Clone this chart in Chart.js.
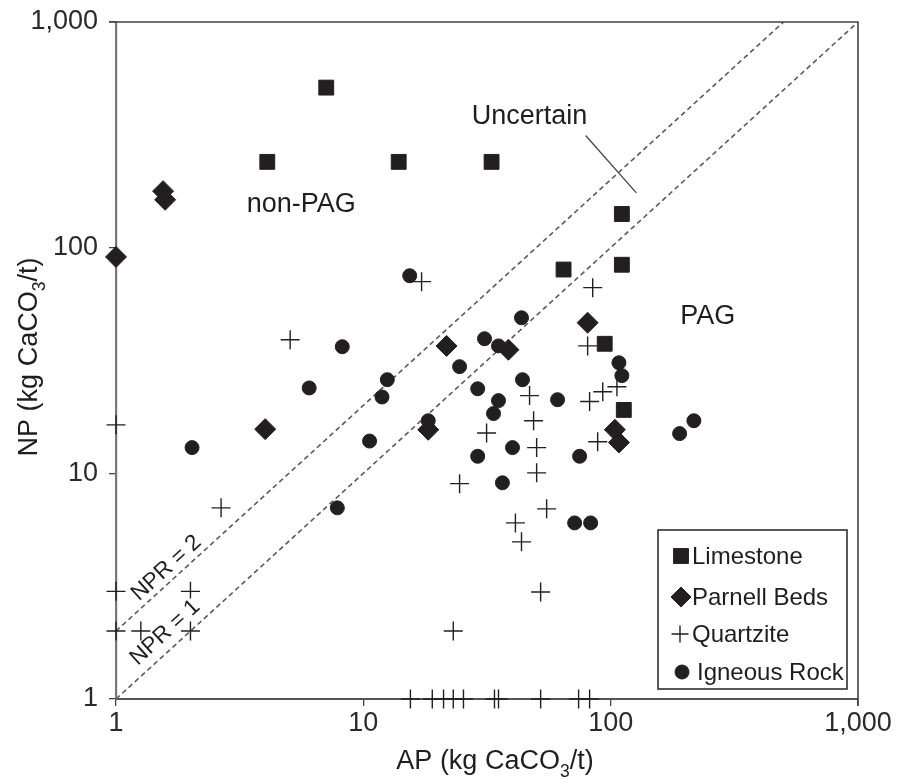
<!DOCTYPE html>
<html>
<head>
<meta charset="utf-8">
<script src="https://cdn.jsdelivr.net/npm/chart.js@4.4.1/dist/chart.umd.min.js"></script>
<style>
html,body{margin:0;padding:0;background:#fff;}
canvas{display:block;}
</style>
</head>
<body>
<canvas id="c" width="898" height="779" style="width:898px;height:779px"></canvas>
<script>
// ---- Data (AP, NP in kg CaCO3/t) ----
const limestoneAP = [7.08, 4.09, 13.9, 33, 111, 64.5, 111, 94.6, 113];
const limestoneNP = [512, 240, 240, 240, 141, 80, 84, 37.5, 19.1];

const parnellAP = [1.55, 1.58, 1, 21.7, 4.01, 18.3, 38.6, 80.7, 104, 108];
const parnellNP = [178, 163, 91, 36.7, 15.7, 15.6, 35.3, 46.5, 15.6, 13.7];

const quartziteAP = [1, 5.06, 17.2, 31.5, 24.5, 2.66, 1, 2.0, 1, 1.26, 2.0, 23.1,
  84.6, 80.7, 47, 92.9, 106, 82.2, 48.8, 50.2, 88.6, 50.2, 55.1, 41.2, 43.6, 52.1,
  15.5, 19.0, 21.1, 23.1, 25.4, 33.9, 35.2, 52.1, 74.2, 82.2];
const quartziteNP = [16.4, 39.1, 70.7, 15.1, 9.0, 7.03, 3.0, 3.0, 2.0, 2.0, 2.0, 2.0,
  66.5, 36.7, 22.1, 23, 24.2, 20.8, 17.1, 13.0, 13.8, 10.05, 6.96, 6.03, 4.97, 2.98,
  1, 1, 1, 1, 1, 1, 1, 1, 1, 1];

const igneousAP = [15.4, 8.22, 6.04, 2.03, 12.5, 11.9, 10.6, 18.3, 24.5, 30.9, 35.2, 29,
  35.2, 43.6, 44, 33.6, 61, 108, 111, 217, 190, 40.1, 29, 74.9, 36.5, 71.5, 83, 7.85];
const igneousNP = [75.1, 36.4, 23.9, 13.0, 26.0, 21.8, 13.9, 17.1, 29.7, 39.5, 36.7, 23.7,
  21.0, 48.9, 26.0, 18.4, 21.2, 30.9, 27.1, 17.1, 15.0, 13.0, 11.9, 11.9, 9.08, 6.03, 6.03, 7.03];

// reference lines (NPR = NP/AP)
const npr1AP = [1, 1000];
const npr1NP = [1, 1000];
const npr2AP = [1, 500];
const npr2NP = [2, 1000];
// leader line for "Uncertain"
const leaderAP = [79.2, 127];
const leaderNP = [314, 175];

const tickValues = [1, 10, 100, 1000];
const tickLabels = ['1', '10', '100', '1,000'];

const seriesNames = ['Limestone', 'Parnell Beds', 'Quartzite', 'Igneous Rock'];

// annotation anchors (data coords)
const notes = [
  {text: 'non-PAG', ap: 5.61, np: 155},
  {text: 'Uncertain', ap: 47, np: 381},
  {text: 'PAG', ap: 247, np: 49.4}
];
const nprLabels = [
  {text: 'NPR = 2', ap: 1.6, np: 3.8},
  {text: 'NPR = 1', ap: 1.58, np: 1.97}
];

const zip = (xs, ys) => xs.map((x, i) => ({x: x, y: ys[i]}));
const INK = '#231f20';
const FONT = "'Liberation Sans', Arial, Helvetica, sans-serif";

const markerStyles = [
  {pointStyle: 'rect', radius: 10.5, borderWidth: 1},
  {pointStyle: 'rectRot', radius: 10.5, borderWidth: 1},
  {pointStyle: 'cross', radius: 9.5, borderWidth: 1.4},
  {pointStyle: 'circle', radius: 7, borderWidth: 1}
];

function markerDataset(label, data, st) {
  return {
    label: label, data: data, type: 'scatter', showLine: false,
    pointStyle: st.pointStyle, pointRadius: st.radius, pointHoverRadius: st.radius,
    pointBorderWidth: st.borderWidth, backgroundColor: INK, borderColor: INK,
    clip: false, order: 0
  };
}
function lineDataset(data, dash, width, color) {
  return {
    label: '', data: data, type: 'line', showLine: true, pointRadius: 0,
    borderDash: dash, borderWidth: width, borderColor: color, fill: false,
    tension: 0, clip: false, order: 10
  };
}

const datasets = [
  lineDataset(zip(npr1AP, npr1NP), [5, 3.5], 1.6, '#5a5a5a'),
  lineDataset(zip(npr2AP, npr2NP), [5, 3.5], 1.6, '#5a5a5a'),
  lineDataset(zip(leaderAP, leaderNP), [], 1.3, '#444'),
  markerDataset(seriesNames[0], zip(limestoneAP, limestoneNP), markerStyles[0]),
  markerDataset(seriesNames[1], zip(parnellAP, parnellNP), markerStyles[1]),
  markerDataset(seriesNames[2], zip(quartziteAP, quartziteNP), markerStyles[2]),
  markerDataset(seriesNames[3], zip(igneousAP, igneousNP), markerStyles[3])
];

function drawSubText(ctx, parts, size) {
  let w = 0;
  const widths = parts.map(p => {
    ctx.font = (p[1] ? size * 0.65 : size) + 'px ' + FONT;
    const m = ctx.measureText(p[0]).width;
    w += m; return m;
  });
  let x = -w / 2;
  parts.forEach((p, i) => {
    ctx.font = (p[1] ? size * 0.65 : size) + 'px ' + FONT;
    ctx.fillText(p[0], x, p[1] ? size * 0.28 : 0);
    x += widths[i];
  });
}

const overlay = {
  id: 'overlay',
  afterDraw(chart) {
    const ctx = chart.ctx;
    const xs = chart.scales.x, ys = chart.scales.y;
    const a = chart.chartArea;
    ctx.save();
    // top & right frame
    ctx.strokeStyle = '#444';
    ctx.lineWidth = 1.6;
    ctx.beginPath();
    ctx.moveTo(a.left - 7, a.top);
    ctx.lineTo(a.right, a.top);
    ctx.lineTo(a.right, a.bottom + 7);
    ctx.stroke();

    ctx.fillStyle = '#1e1e1e';
    ctx.textAlign = 'center';
    ctx.textBaseline = 'middle';
    ctx.font = '27px ' + FONT;
    notes.forEach(n => {
      ctx.fillText(n.text, xs.getPixelForValue(n.ap), ys.getPixelForValue(n.np));
    });

    // NPR labels, rotated along the lines
    const ang = Math.atan2(ys.getPixelForValue(10) - ys.getPixelForValue(1),
                           xs.getPixelForValue(10) - xs.getPixelForValue(1));
    ctx.font = '22.5px ' + FONT;
    nprLabels.forEach(n => {
      ctx.save();
      ctx.translate(xs.getPixelForValue(n.ap), ys.getPixelForValue(n.np));
      ctx.rotate(ang);
      ctx.fillStyle = '#fff';
      const w = ctx.measureText(n.text).width;
      ctx.fillRect(-w / 2 - 1, -8, w + 2, 16);
      ctx.fillStyle = '#1e1e1e';
      ctx.fillText(n.text, 0, 0);
      ctx.restore();
    });

    // axis titles
    ctx.fillStyle = '#1e1e1e';
    ctx.textAlign = 'left';
    ctx.textBaseline = 'alphabetic';
    ctx.save();
    ctx.translate(495, 769);
    drawSubText(ctx, [['AP (kg CaCO', false], ['3', true], ['/t)', false]], 27);
    ctx.restore();
    ctx.save();
    ctx.translate(37, 357);
    ctx.rotate(-Math.PI / 2);
    drawSubText(ctx, [['NP (kg CaCO', false], ['3', true], ['/t)', false]], 27);
    ctx.restore();

    // legend box
    const lx = 658, ly = 530, lw = 189, lh = 159;
    ctx.fillStyle = '#fff';
    ctx.fillRect(lx, ly, lw, lh);
    ctx.strokeStyle = '#222';
    ctx.lineWidth = 1.5;
    ctx.strokeRect(lx, ly, lw, lh);
    const rows = [
      {y: 556, mx: 681, tx: 692, st: {pointStyle: 'rect', radius: 10.5, borderWidth: 1}},
      {y: 597, mx: 681, tx: 692, st: {pointStyle: 'rectRot', radius: 10, borderWidth: 1}},
      {y: 634, mx: 680, tx: 692, st: {pointStyle: 'cross', radius: 8.5, borderWidth: 1.4}},
      {y: 672, mx: 682, tx: 697, st: {pointStyle: 'circle', radius: 7, borderWidth: 1}}
    ];
    ctx.font = '24px ' + FONT;
    ctx.textBaseline = 'middle';
    rows.forEach((r, i) => {
      ctx.fillStyle = INK; ctx.strokeStyle = INK;
      ctx.lineWidth = r.st.borderWidth;
      ctx.setLineDash([]);
      Chart.helpers.drawPoint(ctx, {pointStyle: r.st.pointStyle, radius: r.st.radius,
        borderWidth: r.st.borderWidth, rotation: 0}, r.mx, r.y);
      ctx.fillStyle = '#1e1e1e';
      ctx.fillText(seriesNames[i], r.tx, r.y + 1);
    });
    ctx.restore();
  }
};

const tickOpts = {
  font: {family: FONT, size: 27},
  color: '#2a2a2a',
  autoSkip: false,
  maxRotation: 0,
  callback: function(v) {
    const i = tickValues.indexOf(v);
    return i >= 0 ? tickLabels[i] : '';
  }
};

new Chart(document.getElementById('c').getContext('2d'), {
  type: 'scatter',
  data: {datasets: datasets},
  options: {
    responsive: false,
    animation: false,
    devicePixelRatio: 1,
    layout: {padding: {top: 22, right: 40, left: 0, bottom: 0}},
    plugins: {legend: {display: false}, tooltip: {enabled: false}, title: {display: false}},
    scales: {
      x: {
        type: 'logarithmic', min: 1, max: 1000,
        afterBuildTicks: s => { s.ticks = tickValues.map(v => ({value: v, major: true})); },
        afterFit: s => { s.height = 80; s.paddingLeft = 0; s.paddingRight = 0; },
        ticks: Object.assign({}, tickOpts, {padding: 1}),
        grid: {display: true, drawOnChartArea: false, drawTicks: true, tickLength: 7, color: '#444', lineWidth: 1.3},
        border: {display: true, color: '#555', width: 2}
      },
      y: {
        type: 'logarithmic', min: 1, max: 1000,
        afterBuildTicks: s => { s.ticks = tickValues.map(v => ({value: v, major: true})); },
        afterFit: s => { s.width = 116; s.paddingTop = 0; s.paddingBottom = 0; },
        ticks: Object.assign({}, tickOpts, {padding: 11}),
        grid: {display: true, drawOnChartArea: false, drawTicks: true, tickLength: 7, color: '#444', lineWidth: 1.3},
        border: {display: true, color: '#777', width: 2.2}
      }
    }
  },
  plugins: [overlay]
});
</script>
</body>
</html>
